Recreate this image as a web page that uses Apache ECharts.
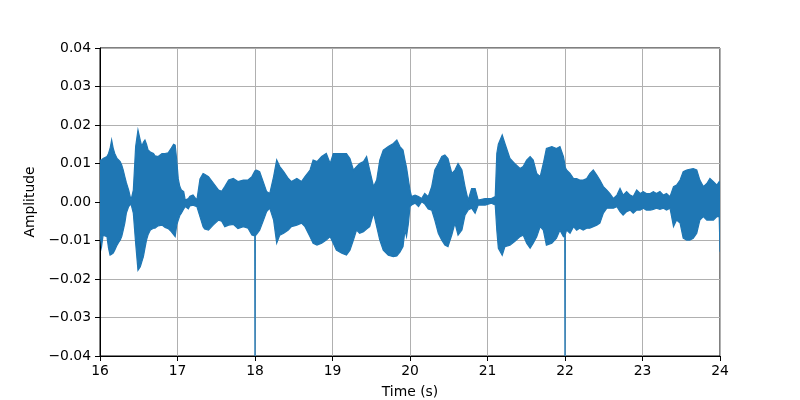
<!DOCTYPE html>
<html>
<head>
<meta charset="utf-8">
<script src="https://cdn.jsdelivr.net/npm/echarts@6/dist/echarts.min.js"></script>
<style>html,body{margin:0;padding:0;background:#fff}#c{width:800px;height:400px}</style>
</head>
<body>
<div id="c"></div>
<script>
// Envelope of the waveform: time (s), upper and lower amplitude
const times = [16.00,16.02,16.04,16.09,16.11,16.13,16.15,16.17,16.19,16.22,16.24,16.26,16.28,16.30,16.32,16.34,16.37,16.40,16.43,16.46,16.49,16.52,16.54,16.56,16.58,16.60,16.62,16.65,16.69,16.71,16.75,16.80,16.84,16.88,16.92,16.95,16.97,16.99,17.01,17.03,17.05,17.08,17.10,17.14,17.16,17.20,17.25,17.29,17.33,17.35,17.40,17.46,17.53,17.57,17.61,17.66,17.72,17.78,17.85,17.91,17.96,17.997,18.00,18.003,18.02,18.06,18.11,18.15,18.19,18.24,18.28,18.32,18.37,18.43,18.47,18.54,18.60,18.645,18.71,18.75,18.80,18.86,18.92,18.97,19.01,19.05,19.12,19.18,19.225,19.27,19.31,19.35,19.40,19.44,19.48,19.53,19.57,19.61,19.655,19.72,19.785,19.83,19.87,19.91,19.935,19.955,19.98,20.00,20.02,20.065,20.11,20.15,20.19,20.235,20.28,20.32,20.365,20.41,20.45,20.49,20.54,20.58,20.62,20.67,20.71,20.75,20.795,20.84,20.88,20.97,21.05,21.10,21.12,21.14,21.19,21.225,21.29,21.35,21.42,21.46,21.505,21.55,21.59,21.635,21.68,21.72,21.76,21.83,21.89,21.935,21.98,21.997,22.00,22.003,22.02,22.065,22.11,22.15,22.19,22.235,22.28,22.32,22.365,22.41,22.45,22.495,22.54,22.58,22.625,22.67,22.71,22.75,22.795,22.84,22.88,22.925,22.97,23.01,23.05,23.10,23.14,23.18,23.225,23.27,23.31,23.355,23.40,23.44,23.485,23.525,23.57,23.61,23.655,23.70,23.74,23.785,23.83,23.87,23.915,23.96,23.99,24.00];
const upper = [0.0109,0.0109,0.0113,0.0118,0.0126,0.0139,0.0161,0.0140,0.0126,0.0113,0.0109,0.0105,0.0096,0.0083,0.0066,0.0050,0.0031,0.0005,0.0031,0.0144,0.0187,0.0160,0.0144,0.0155,0.0161,0.0150,0.0135,0.0130,0.0126,0.0120,0.0118,0.0126,0.0126,0.0128,0.0140,0.0150,0.0148,0.0109,0.0060,0.0040,0.0031,0.0027,0.0005,0.0009,0.0015,0.0018,0.0005,0.0060,0.0074,0.0072,0.0066,0.0050,0.0031,0.0028,0.0040,0.0057,0.0061,0.0053,0.0057,0.0057,0.0066,0.0080,0.0080,0.0082,0.0083,0.0079,0.0050,0.0027,0.0022,0.0066,0.0109,0.0092,0.0079,0.0061,0.0053,0.0061,0.0053,0.0066,0.0083,0.0109,0.0105,0.0118,0.0126,0.0100,0.0126,0.0126,0.0126,0.0126,0.0113,0.0083,0.0092,0.0100,0.0105,0.0118,0.0083,0.0040,0.0057,0.0109,0.0135,0.0144,0.0152,0.0161,0.0144,0.0135,0.0109,0.0090,0.0057,0.0031,0.0014,0.0018,0.0014,0.0009,0.0022,0.0014,0.0040,0.0083,0.0100,0.0118,0.0122,0.0113,0.0074,0.0083,0.0100,0.0083,0.0040,0.0005,0.0035,0.0035,0.0005,0.0009,0.0009,0.0014,0.0126,0.0150,0.0174,0.0152,0.0113,0.0100,0.0087,0.0092,0.0109,0.0118,0.0109,0.0074,0.0066,0.0100,0.0139,0.0144,0.0139,0.0144,0.0118,0.0100,0.0095,0.0090,0.0083,0.0074,0.0061,0.0061,0.0057,0.0057,0.0061,0.0074,0.0083,0.0070,0.0057,0.0040,0.0031,0.0022,0.0009,0.0018,0.0035,0.0018,0.0027,0.0018,0.0014,0.0031,0.0022,0.0027,0.0022,0.0022,0.0027,0.0022,0.0027,0.0018,0.0022,0.0014,0.0040,0.0044,0.0057,0.0079,0.0083,0.0085,0.0087,0.0083,0.0057,0.0040,0.0048,0.0061,0.0053,0.0044,0.0053,0.0050];
const lower = [-0.0081,-0.0116,-0.0086,-0.0090,-0.0120,-0.0138,-0.0136,-0.0133,-0.0125,-0.0112,-0.0105,-0.0099,-0.0090,-0.0073,-0.0055,-0.0029,-0.0012,-0.0005,-0.0029,-0.0107,-0.0177,-0.0168,-0.0155,-0.0142,-0.0120,-0.0099,-0.0085,-0.0073,-0.0068,-0.0068,-0.0062,-0.0060,-0.0066,-0.0069,-0.0077,-0.0085,-0.0090,-0.0060,-0.0047,-0.0035,-0.0029,-0.0018,-0.0012,-0.0018,-0.0010,-0.0008,-0.0012,-0.0038,-0.0064,-0.0070,-0.0073,-0.0060,-0.0047,-0.0050,-0.0064,-0.0060,-0.0058,-0.0069,-0.0064,-0.0068,-0.0086,-0.0088,-0.0500,-0.0088,-0.0084,-0.0073,-0.0047,-0.0025,-0.0016,-0.0047,-0.0107,-0.0086,-0.0081,-0.0073,-0.0064,-0.0060,-0.0055,-0.0064,-0.0090,-0.0107,-0.0112,-0.0107,-0.0099,-0.0090,-0.0107,-0.0125,-0.0133,-0.0138,-0.0125,-0.0099,-0.0073,-0.0081,-0.0077,-0.0070,-0.0064,-0.0029,-0.0064,-0.0099,-0.0125,-0.0138,-0.0142,-0.0140,-0.0130,-0.0116,-0.0073,-0.0090,-0.0055,-0.0012,-0.0008,-0.0003,-0.0012,0.0001,-0.0005,-0.0018,-0.0021,-0.0047,-0.0081,-0.0099,-0.0112,-0.0116,-0.0085,-0.0055,-0.0086,-0.0073,-0.0034,-0.0021,-0.0016,-0.0029,-0.0008,-0.0008,-0.0003,-0.0008,-0.0073,-0.0120,-0.0138,-0.0116,-0.0112,-0.0103,-0.0090,-0.0086,-0.0107,-0.0120,-0.0107,-0.0090,-0.0064,-0.0073,-0.0112,-0.0107,-0.0094,-0.0073,-0.0090,-0.0088,-0.0500,-0.0085,-0.0073,-0.0081,-0.0064,-0.0073,-0.0068,-0.0073,-0.0068,-0.0068,-0.0064,-0.0060,-0.0055,-0.0029,-0.0016,-0.0016,-0.0016,-0.0012,-0.0025,-0.0034,-0.0025,-0.0021,-0.0029,-0.0021,-0.0021,-0.0016,-0.0021,-0.0021,-0.0019,-0.0016,-0.0019,-0.0016,-0.0021,-0.0016,-0.0064,-0.0047,-0.0055,-0.0094,-0.0099,-0.0099,-0.0094,-0.0081,-0.0047,-0.0038,-0.0047,-0.0047,-0.0047,-0.0038,-0.0038,-0.0129];
const xTicks = [16,17,18,19,20,21,22,23,24];
const yTicks = [-0.04,-0.03,-0.02,-0.01,0.00,0.01,0.02,0.03,0.04];

const color = '#1f77b4';
const font = 'DejaVu Sans';
const data = times.map((t, i) => [t, upper[i], lower[i]]);

const chart = echarts.init(document.getElementById('c'), null, {renderer: 'canvas'});
chart.setOption({
  animation: false,
  backgroundColor: '#fff',
  grid: {left: 100, right: 80, top: 48, bottom: 44, outerBoundsMode: 'none', containLabel: false,
         show: true, borderColor: '#000', borderWidth: 1, backgroundColor: 'transparent'},
  xAxis: {
    type: 'value', min: xTicks[0], max: xTicks[xTicks.length-1], interval: 1,
    name: 'Time (s)', nameLocation: 'middle', nameGap: 29,
    nameTextStyle: {fontFamily: font, fontSize: 13.9, color: '#000'},
    axisLine: {show: true, onZero: false, lineStyle: {color: '#000', width: 1}},
    axisTick: {show: true, inside: false, length: 5, lineStyle: {color: '#000'}},
    axisLabel: {margin: 8, fontFamily: font, fontSize: 13.9, color: '#000'},
    splitLine: {show: true, lineStyle: {color: '#b0b0b0', width: 1}}
  },
  yAxis: {
    type: 'value', min: yTicks[0], max: yTicks[yTicks.length-1], interval: 0.01,
    name: 'Amplitude', nameLocation: 'middle', nameGap: 52,
    nameTextStyle: {fontFamily: font, fontSize: 13.9, color: '#000'},
    axisLine: {show: true, onZero: false, lineStyle: {color: '#000', width: 1}},
    axisTick: {show: true, inside: false, length: 5, lineStyle: {color: '#000'}},
    axisLabel: {margin: 9, fontFamily: font, fontSize: 13.9, color: '#000',
      formatter: v => (Math.abs(v) < 1e-9 ? 0 : v).toFixed(2).replace('-', '\u2212')},
    splitLine: {show: true, lineStyle: {color: '#b0b0b0', width: 1}}
  },
  series: [{
    type: 'custom',
    clip: true,
    data: data,
    encode: {x: 0, y: [1, 2]},
    renderItem: function (params, api) {
      // draw the whole envelope as one filled outline (upper edge forward, lower edge back)
      if (params.dataIndex !== 0) return null;
      const n = data.length;
      const pts = [];
      for (let i = 0; i < n; i++) pts.push(api.coord([api.value(0, i), api.value(1, i)]));
      for (let i = n - 1; i >= 0; i--) pts.push(api.coord([api.value(0, i), api.value(2, i)]));
      return {
        type: 'polygon',
        shape: {points: pts},
        style: {fill: color, stroke: color, lineWidth: 1.2}
      };
    }
  }]
});
</script>
</body>
</html>
